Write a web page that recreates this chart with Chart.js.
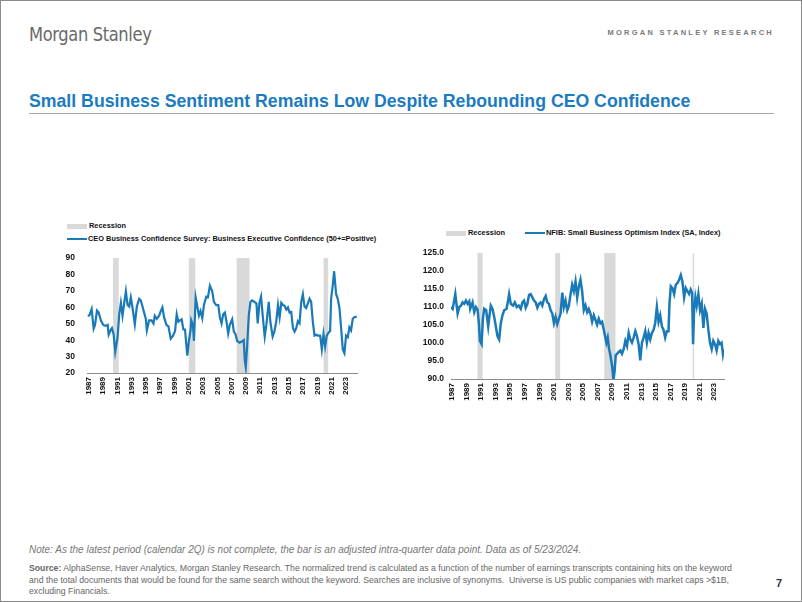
<html>
<head>
  <title>Small Business Sentiment</title>
  <script src="https://cdn.jsdelivr.net/npm/chart.js"></script>
  <style>
    body { margin: 0; background: #fff; font-family: "Liberation Sans", Arial, sans-serif; }
    #page { position: relative; width: 802px; height: 602px; box-sizing: border-box; border: 1px solid #8a8a8a; overflow: hidden; }
    .abs { position: absolute; white-space: nowrap; }
    #logo { left: 28px; top: 22px; font-family: "Liberation Sans Narrow", "DejaVu Sans Condensed", sans-serif; font-size: 19.5px; color: #6a6a6a; letter-spacing: -0.4px; transform: scaleX(0.93); transform-origin: left top; }
    #research { right: 27px; top: 27px; font-size: 7.5px; font-weight: bold; letter-spacing: 2.25px; color: #7a7a7a; }
    #title { left: 28px; top: 90px; font-size: 17.7px; font-weight: bold; color: #1b7bbf; }
    #rule { left: 28px; top: 112px; width: 745px; height: 0; border-top: 1.5px solid #a8a8a8; }
    .leg { font-size: 7.4px; font-weight: bold; color: #111; line-height: 10px; }
    .box { display: inline-block; vertical-align: middle; width: 20px; height: 5px; background: #d9d9d9; margin-right: 2px; }
    .ln { display: inline-block; vertical-align: middle; width: 20px; height: 2px; background: #1a7ab8; margin-right: 1px; }
    .cv { position: absolute; }
    #note { left: 28px; top: 543px; font-size: 10px; font-style: italic; color: #777; }
    #source { left: 28px; top: 562px; width: 716px; font-size: 8.7px; line-height: 11.5px; color: #666; white-space: normal; }
    #pnum { left: 775px; top: 576px; font-size: 11px; font-weight: bold; color: #333; }
  </style>
</head>
<body>
<div id="page">
  <div id="logo" class="abs">Morgan Stanley</div>
  <div id="research" class="abs">MORGAN STANLEY RESEARCH</div>
  <div id="title" class="abs">Small Business Sentiment Remains Low Despite Rebounding CEO Confidence</div>
  <div id="rule" class="abs"></div>

  <div class="abs leg" style="left:66px;top:220px;"><span class="box"></span>Recession</div>
  <div class="abs leg" style="left:66px;top:233px;"><span class="ln"></span>CEO Business Confidence Survey: Business Executive Confidence (50+=Positive)</div>
  <div class="abs leg" style="left:445px;top:227px;"><span class="box"></span>Recession</div>
  <div class="abs leg" style="left:524px;top:227px;"><span class="ln"></span>NFIB: Small Business Optimism Index (SA, Index)</div>

  <div class="cv" style="left:40px;top:240px;width:322px;height:180px;"><canvas id="ceoChart"></canvas></div>
  <div class="cv" style="left:400px;top:240px;width:329px;height:180px;"><canvas id="nfibChart"></canvas></div>

  <div id="note" class="abs">Note: As the latest period (calendar 2Q) is not complete, the bar is an adjusted intra-quarter data point. Data as of 5/23/2024.</div>
  <div id="source" class="abs"><b>Source:</b> AlphaSense, Haver Analytics, Morgan Stanley Research. The normalized trend is calculated as a function of the number of earnings transcripts containing hits on the keyword and the total documents that would be found for the same search without the keyword. Searches are inclusive of synonyms.&nbsp; Universe is US public companies with market caps &gt;$1B, excluding Financials.</div>
  <div id="pnum" class="abs">7</div>
</div>

<script>
// tick labels (every other year)
const tickYears = [1987, 1989, 1991, 1993, 1995, 1997, 1999, 2001, 2003, 2005, 2007, 2009, 2011, 2013, 2015, 2017, 2019, 2021, 2023];

// recession periods [start, end] in decimal years
const ceoRecessions = [[1990.4, 1991.2], [2001.0, 2001.9], [2007.7, 2009.5], [2019.85, 2020.5]];
const nfibRecessions = [[1990.5, 1991.2], [2001.17, 2001.85], [2007.9, 2009.45], [2020.05, 2020.25]];

// CEO confidence (quarterly)
const ceoYears = [1986.86, 1987.09, 1987.41, 1987.69, 1987.88, 1988.16, 1988.39, 1988.71, 1989.04, 1989.32,
  1989.65, 1989.79, 1990.11, 1990.25, 1990.48, 1990.71, 1991.04, 1991.27, 1991.50, 1991.73,
  1991.96, 1992.20, 1992.43, 1992.66, 1992.89, 1993.13, 1993.45, 1993.73, 1994.06, 1994.29,
  1994.52, 1994.75, 1994.99, 1995.13, 1995.45, 1995.78, 1996.06, 1996.24, 1996.52, 1996.85,
  1997.08, 1997.31, 1997.54, 1997.87, 1998.15, 1998.47, 1998.80, 1999.08, 1999.31, 1999.54,
  1999.77, 2000.00, 2000.24, 2000.47, 2000.79, 2001.03, 2001.26, 2001.35, 2001.58, 2001.72,
  2001.96, 2002.19, 2002.42, 2002.65, 2002.89, 2003.12, 2003.44, 2003.68, 2003.95, 2004.28,
  2004.51, 2004.84, 2005.12, 2005.35, 2005.58, 2005.81, 2006.04, 2006.28, 2006.51, 2006.74,
  2007.07, 2007.30, 2007.53, 2007.76, 2008.09, 2008.37, 2008.69, 2008.83, 2008.97, 2009.16,
  2009.39, 2009.62, 2009.85, 2010.18, 2010.46, 2010.64, 2010.88, 2011.11, 2011.34, 2011.62,
  2011.85, 2012.18, 2012.41, 2012.73, 2012.97, 2013.24, 2013.48, 2013.71, 2013.94, 2014.17,
  2014.41, 2014.64, 2014.87, 2015.10, 2015.33, 2015.57, 2015.80, 2016.03, 2016.26, 2016.49,
  2016.73, 2016.96, 2017.19, 2017.42, 2017.66, 2017.89, 2018.12, 2018.35, 2018.59, 2018.82,
  2019.05, 2019.38, 2019.61, 2019.84, 2020.07, 2020.30, 2020.54, 2020.77, 2020.91, 2021.14,
  2021.33, 2021.61, 2021.84, 2022.07, 2022.31, 2022.54, 2022.77, 2023.00, 2023.24, 2023.47,
  2023.70, 2023.93, 2024.16, 2024.49];
const ceoValues = [54.9, 55.0, 59.0, 47.0, 49.3, 58.0, 56.8, 52.0, 49.3, 48.7,
  49.3, 43.3, 46.5, 47.4, 43.7, 32.9, 41.8, 55.8, 62.7, 54.9,
  62.4, 69.8, 61.4, 60.5, 66.1, 59.6, 49.7, 60.5, 65.2, 64.2,
  60.5, 56.8, 53.0, 46.0, 52.1, 52.1, 50.2, 54.9, 53.0, 54.9,
  57.7, 60.0, 54.0, 49.3, 48.4, 40.9, 42.8, 45.6, 55.8, 51.2,
  52.1, 52.7, 46.5, 46.5, 30.6, 40.0, 46.5, 52.1, 49.3, 39.6,
  66.1, 60.5, 54.9, 57.7, 53.4, 61.4, 66.5, 66.1, 73.2, 69.8,
  63.3, 61.4, 61.4, 54.0, 50.2, 55.8, 56.8, 51.2, 44.1, 49.3,
  52.7, 45.2, 43.7, 39.6, 38.5, 39.0, 40.0, 27.8, 23.5, 36.2,
  54.9, 63.3, 64.2, 63.3, 62.4, 50.2, 62.7, 66.5, 54.9, 42.2,
  49.3, 63.3, 51.2, 42.2, 45.2, 51.5, 61.4, 54.0, 62.7, 61.4,
  60.9, 58.6, 60.0, 56.8, 57.2, 47.4, 45.2, 47.4, 51.5, 50.2,
  63.3, 68.0, 60.5, 59.6, 62.4, 65.2, 63.3, 51.2, 42.8, 43.3,
  42.8, 42.8, 34.4, 43.7, 36.2, 42.8, 44.6, 45.6, 65.2, 73.6,
  82.0, 68.0, 65.2, 59.6, 47.4, 34.4, 32.1, 42.8, 41.8, 47.8,
  46.0, 53.0, 54.0, 54.3];

// NFIB small business optimism
const nfibYears = [1986.86, 1987.09, 1987.45, 1987.77, 1988.00, 1988.23, 1988.46, 1988.68, 1988.91, 1989.14,
  1989.37, 1989.50, 1989.82, 1990.05, 1990.28, 1990.51, 1990.69, 1990.83, 1991.06, 1991.24,
  1991.42, 1991.69, 1991.97, 1992.15, 1992.33, 1992.56, 1992.79, 1993.02, 1993.24, 1993.47,
  1993.70, 1993.93, 1994.16, 1994.48, 1994.70, 1994.84, 1995.07, 1995.39, 1995.62, 1995.89,
  1996.16, 1996.44, 1996.66, 1996.89, 1997.12, 1997.35, 1997.58, 1997.80, 1998.03, 1998.26,
  1998.49, 1998.72, 1998.94, 1999.17, 1999.40, 1999.63, 1999.86, 2000.08, 2000.31, 2000.54,
  2000.77, 2001.00, 2001.22, 2001.45, 2001.68, 2001.91, 2002.14, 2002.36, 2002.59, 2002.82,
  2003.05, 2003.28, 2003.50, 2003.73, 2003.96, 2004.19, 2004.42, 2004.64, 2004.87, 2005.10,
  2005.33, 2005.56, 2005.78, 2006.01, 2006.24, 2006.47, 2006.70, 2006.92, 2007.15, 2007.38,
  2007.61, 2007.84, 2008.02, 2008.20, 2008.38, 2008.57, 2008.75, 2008.89, 2009.02, 2009.16,
  2009.34, 2009.48, 2009.66, 2009.89, 2010.12, 2010.34, 2010.57, 2010.80, 2011.03, 2011.26,
  2011.48, 2011.71, 2011.94, 2012.17, 2012.40, 2012.62, 2012.85, 2013.08, 2013.31, 2013.54,
  2013.76, 2013.99, 2014.22, 2014.45, 2014.68, 2014.90, 2015.13, 2015.36, 2015.59, 2015.82,
  2016.04, 2016.27, 2016.50, 2016.73, 2016.86, 2017.05, 2017.27, 2017.50, 2017.73, 2017.96,
  2018.19, 2018.42, 2018.64, 2018.87, 2019.10, 2019.33, 2019.56, 2019.78, 2019.97, 2020.10,
  2020.24, 2020.42, 2020.60, 2020.83, 2021.06, 2021.29, 2021.52, 2021.74, 2021.97, 2022.20,
  2022.43, 2022.66, 2022.88, 2023.11, 2023.34, 2023.57, 2023.80, 2024.02, 2024.20, 2024.30];
const nfibValues = [110.0, 109.5, 113.6, 108.2, 110.0, 110.4, 111.3, 110.9, 111.8, 110.9,
  111.6, 109.5, 111.3, 108.6, 110.0, 109.3, 105.5, 100.6, 99.7, 106.8,
  109.5, 109.1, 104.6, 107.7, 110.4, 109.5, 107.3, 104.6, 101.9, 101.0,
  105.5, 107.7, 109.1, 109.5, 111.8, 113.6, 110.9, 110.4, 111.3, 110.0,
  110.4, 109.5, 111.3, 111.8, 109.8, 110.9, 113.4, 113.6, 112.7, 111.8,
  111.3, 109.8, 110.9, 111.3, 110.4, 112.2, 113.1, 111.3, 110.9, 109.1,
  108.2, 105.5, 107.3, 105.3, 106.8, 108.2, 114.0, 110.0, 111.8, 109.1,
  110.4, 113.6, 116.2, 114.4, 117.1, 112.7, 115.8, 117.6, 114.4, 109.1,
  110.4, 108.6, 109.5, 108.2, 105.9, 107.7, 106.4, 105.1, 106.8, 105.5,
  105.9, 103.7, 101.9, 100.1, 101.5, 98.3, 96.6, 94.8, 93.0, 89.8,
  92.5, 96.6, 97.0, 97.5, 97.9, 97.0, 98.3, 100.6, 99.2, 102.8,
  101.0, 100.1, 101.5, 103.3, 101.9, 99.7, 95.2, 100.1, 101.5, 103.3,
  100.1, 102.8, 101.0, 102.8, 103.7, 105.5, 110.0, 105.9, 107.7, 104.6,
  103.7, 101.5, 103.3, 103.3, 110.9, 115.8, 115.3, 113.6, 116.2, 116.7,
  117.6, 118.9, 117.1, 112.7, 115.3, 114.4, 113.6, 114.9, 114.0, 99.7,
  109.1, 112.7, 110.4, 113.6, 109.1, 110.9, 104.2, 109.5, 108.2, 103.7,
  100.1, 98.3, 100.6, 99.7, 97.9, 100.6, 99.7, 100.1, 97.0, 98.3];

const lineBlue = '#1a7ab8';

// shaded recession bars, placed with the x scale
const recessionPlugin = {
  id: 'recessions',
  beforeDatasetsDraw(chart, args, opts) {
    const { ctx, chartArea, scales } = chart;
    ctx.save();
    ctx.fillStyle = '#d9d9d9';
    opts.periods.forEach(([a, b]) => {
      const x0 = scales.x.getPixelForValue(a);
      const x1 = scales.x.getPixelForValue(b);
      ctx.fillRect(x0, chartArea.top, x1 - x0, chartArea.bottom - chartArea.top);
    });
    ctx.restore();
  }
};

function makeChart(id, years, values, periods, yMin, yMax, yStep, xMin, xMax, yWidth, xHeight, decimals, lw) {
  const pts = years.map((x, i) => ({ x: x, y: values[i] }));
  return new Chart(document.getElementById(id), {
    type: 'line',
    data: { datasets: [{ data: pts, borderColor: lineBlue, borderWidth: lw, pointRadius: 0, tension: 0 }] },
    plugins: [recessionPlugin],
    options: {
      responsive: true,
      maintainAspectRatio: false,
      animation: false,
      layout: { padding: { top: 7, right: 6, left: 0, bottom: 0 } },
      plugins: { legend: { display: false }, tooltip: { enabled: false }, recessions: { periods: periods } },
      scales: {
        x: {
          type: 'linear', min: xMin, max: xMax,
          afterBuildTicks: s => { s.ticks = tickYears.map(v => ({ value: v })); },
          afterFit: s => { s.height = xHeight; },
          grid: { display: false, drawTicks: false },
          border: { display: true, color: '#8c8c8c', width: 1 },
          ticks: { autoSkip: false, minRotation: 90, maxRotation: 90, padding: 4, color: '#111',
                   font: { family: 'Liberation Sans', size: 8, weight: 'bold' }, callback: v => String(v) }
        },
        y: {
          min: yMin, max: yMax,
          afterFit: s => { s.width = yWidth; },
          grid: { display: false, drawTicks: false },
          border: { display: false },
          ticks: { stepSize: yStep, padding: decimals ? 7 : 12, color: '#111',
                   font: { family: 'Liberation Sans', size: 8.5, weight: 'bold' },
                   callback: v => decimals ? v.toFixed(1) : String(v) }
        }
      }
    }
  });
}

makeChart('ceoChart', ceoYears, ceoValues, ceoRecessions, 20, 90, 10, 1986.76, 2024.53, 46, 48, false, 2.2);
makeChart('nfibChart', nfibYears, nfibValues, nfibRecessions, 90, 125, 5, 1986.86, 2024.35, 50, 42, true, 2.5);
</script>
</body>
</html>
